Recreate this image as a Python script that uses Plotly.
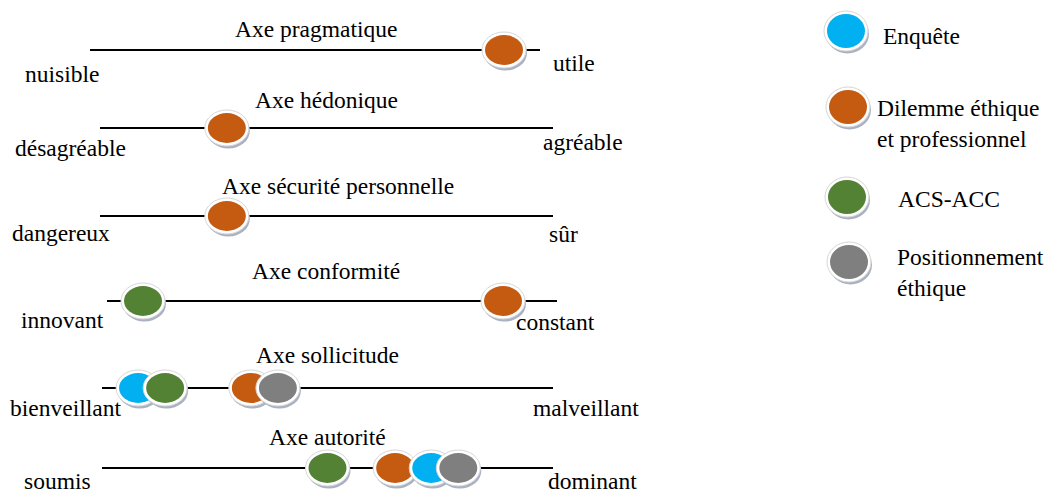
import plotly.graph_objects as go

# ---------------- data ----------------
axis_titles = ["Axe pragmatique", "Axe hédonique", "Axe sécurité personnelle",
               "Axe conformité", "Axe sollicitude", "Axe autorité"]
left_poles = ["nuisible", "désagréable", "dangereux", "innovant", "bienveillant", "soumis"]
right_poles = ["utile", "agréable", "sûr", "constant", "malveillant", "dominant"]

series_names = ["Enquête", "Dilemme éthique et professionnel", "ACS-ACC", "Positionnement éthique"]
series_colors = ["#00B0F0", "#C55A11", "#548235", "#7F7F7F"]
# position on each axis (0 = left pole, 100 = right pole); None = absent
enquete = [None, None, None, None, 8, 73]
dilemme = [92, 28, 28, 88, 33, 65]
acs_acc = [None, None, None, 8, 14, 50]
positionnement = [None, None, None, None, 39, 79]
series_values = [enquete, dilemme, acs_acc, positionnement]

# ---------------- layout constants (window pixels) ----------------
W, H = 1044, 495
line_y = [50, 128, 216, 301, 388, 468]
line_x0 = [90, 100, 100, 107, 102, 102]
line_x1 = [540, 553, 553, 557, 553, 553]
title_xy = [(316, 29), (326, 100), (338, 186), (326, 271), (327, 355), (327, 437)]
left_xy = [(62, 74), (70, 148), (61, 233), (62, 320), (65, 408), (57, 485)]
right_xy = [(574, 63), (583, 142), (563, 234), (555, 322), (586, 408), (592, 485)]

FONT = "Liberation Serif, Times New Roman, serif"
FS = 23.5

fig = go.Figure()

# axis lines
for i in range(len(axis_titles)):
    fig.add_trace(go.Scatter(x=[line_x0[i], line_x1[i]], y=[line_y[i], line_y[i]],
                             mode="lines", line=dict(color="black", width=2),
                             hoverinfo="skip", showlegend=False))

shapes = []


def bubble(cx, cy, color, rx=19, ry=15):
    # shadow
    shapes.append(dict(type="circle", xref="x", yref="y",
                       x0=cx - rx - 2.5 + 1.5, x1=cx + rx + 2.5 + 1.5,
                       y0=cy - ry - 2.5 + 3, y1=cy + ry + 2.5 + 3,
                       fillcolor="#aab1c2", line=dict(width=0), layer="above"))
    # white ring
    shapes.append(dict(type="circle", xref="x", yref="y",
                       x0=cx - rx - 3, x1=cx + rx + 3, y0=cy - ry - 3, y1=cy + ry + 3,
                       fillcolor="#ffffff", line=dict(color="#d6d6d6", width=1), layer="above"))
    # colour fill
    shapes.append(dict(type="circle", xref="x", yref="y",
                       x0=cx - rx, x1=cx + rx, y0=cy - ry, y1=cy + ry,
                       fillcolor=color, line=dict(width=0), layer="above"))


for i in range(len(axis_titles)):
    marks = []
    for s, vals in enumerate(series_values):
        if vals[i] is not None:
            marks.append((vals[i], series_colors[s]))
    marks.sort(key=lambda m: m[0])
    for v, c in marks:
        cx = line_x0[i] + v / 100.0 * (line_x1[i] - line_x0[i])
        bubble(cx, line_y[i], c)

annotations = []


def text(x, y, t, anchor="center"):
    # keep text boxes inside the page at the bottom edge
    yanchor = "middle"
    if y + 0.65 * FS > H:
        y, yanchor = H, "bottom"
    annotations.append(dict(x=x, y=y, xref="x", yref="y", text=t, showarrow=False,
                            xanchor=anchor, yanchor=yanchor, borderpad=0,
                            font=dict(family=FONT, size=FS, color="black")))


for i in range(len(axis_titles)):
    text(*title_xy[i], axis_titles[i])
    text(*left_xy[i], left_poles[i])
    text(*right_xy[i], right_poles[i])

# legend (manual)
legend_circle_xy = [(846, 31), (848, 107), (847, 197), (849, 262)]
legend_text_lines = [["Enquête"], ["Dilemme éthique", "et professionnel"], ["ACS-ACC"],
                     ["Positionnement", "éthique"]]
legend_text_xy = [(882, 36), (876, 108), (897, 199), (896, 257)]
for s in range(len(series_names)):
    bubble(legend_circle_xy[s][0], legend_circle_xy[s][1], series_colors[s], rx=19, ry=17)
    tx, ty = legend_text_xy[s]
    for k, ln in enumerate(legend_text_lines[s]):
        text(tx, ty + 31 * k, ln, anchor="left")

fig.update_layout(
    width=W, height=H,
    margin=dict(l=0, r=0, t=0, b=0),
    paper_bgcolor="white", plot_bgcolor="white",
    xaxis=dict(range=[0, W], visible=False, fixedrange=True),
    yaxis=dict(range=[H, 0], visible=False, fixedrange=True),
    shapes=shapes, annotations=annotations, showlegend=False,
)

fig.write_html("out.html", config={"displayModeBar": False},
               post_script="document.body.style.margin='0';document.body.style.overflow='hidden';")
